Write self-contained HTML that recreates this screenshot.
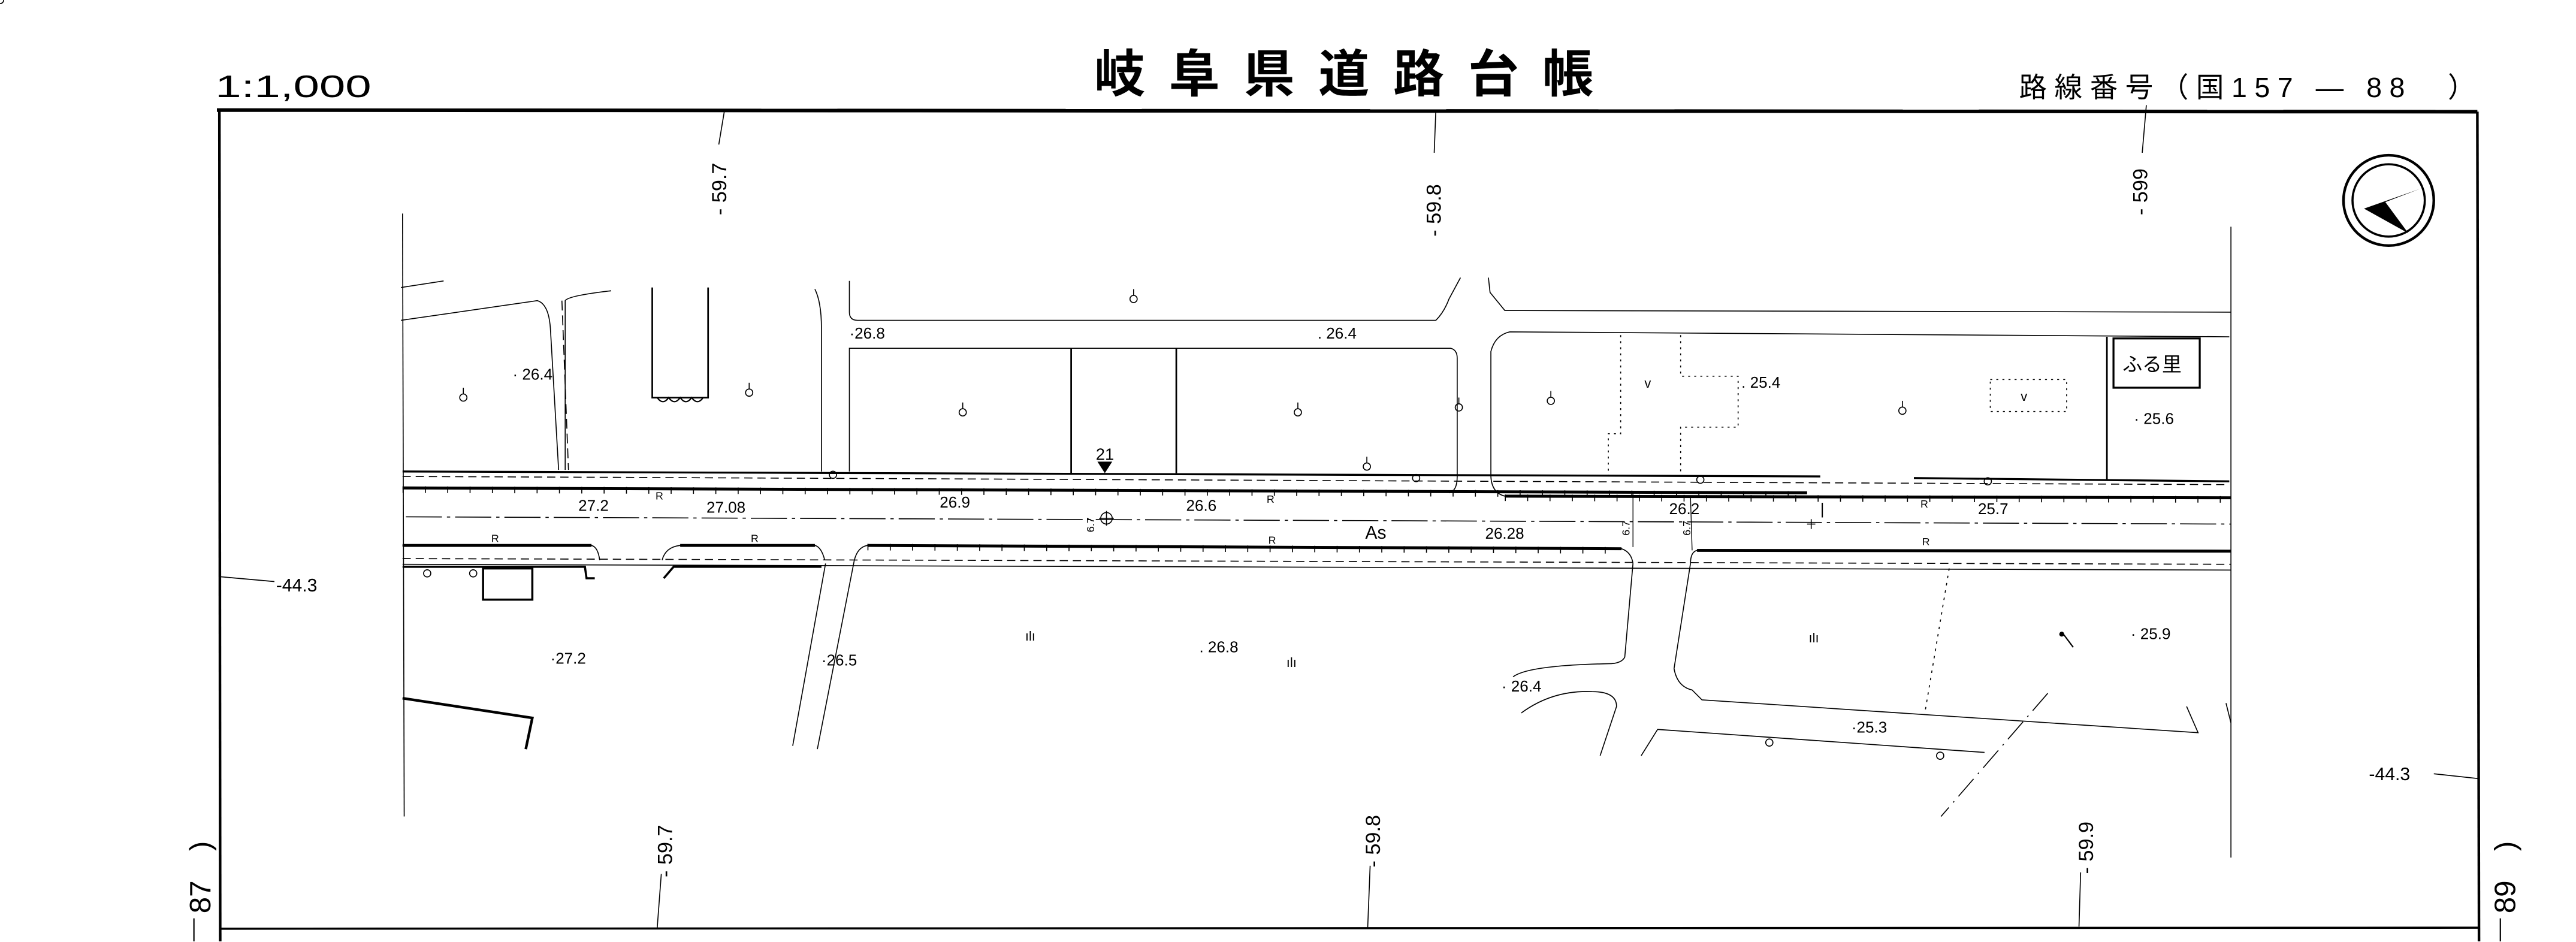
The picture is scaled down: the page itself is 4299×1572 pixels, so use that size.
<!DOCTYPE html>
<html><head><meta charset="utf-8"><style>
html,body{margin:0;padding:0;background:#fff;}
svg{display:block;}
text{font-family:"Liberation Sans","Noto Sans CJK JP",sans-serif;fill:#000;}
</style></head><body>
<svg width="4299" height="1572" viewBox="0 0 1568 573.4" xmlns="http://www.w3.org/2000/svg">
<rect width="1568" height="573.4" fill="#fff"/>
<!-- header -->
<text x="131" y="59" font-size="19" textLength="95" lengthAdjust="spacingAndGlyphs">1:1,000</text>
<text x="666" y="56" font-size="31" font-weight="bold" textLength="304" lengthAdjust="spacing" font-family="Noto Sans CJK JP">岐阜県道路台帳</text>
<text x="1229" y="59" font-size="17" textLength="278" lengthAdjust="spacing">路線番号（国157 — 88　）</text>
<!-- frame -->
<g stroke="#000" fill="none">
<line x1="132" y1="67" x2="1508" y2="68" stroke-width="2.2"/>
<line x1="133.5" y1="67" x2="134" y2="573" stroke-width="1.6"/>
<line x1="1508" y1="68" x2="1509" y2="573" stroke-width="1.6"/>
<line x1="134" y1="565.3" x2="1509" y2="564.7" stroke-width="1.3"/>
<line x1="245" y1="130" x2="246" y2="497" stroke-width="0.6"/>
<line x1="1358" y1="138" x2="1358" y2="522" stroke-width="0.6"/>
<line x1="441" y1="67" x2="437.5" y2="88" stroke-width="0.6"/>
<line x1="874" y1="67" x2="873" y2="93" stroke-width="0.6"/>
<line x1="1306.5" y1="64" x2="1304" y2="93" stroke-width="0.6"/>
<line x1="402.5" y1="532" x2="400" y2="565" stroke-width="0.6"/>
<line x1="834" y1="527" x2="832.5" y2="565" stroke-width="0.6"/>
<line x1="1266.5" y1="531" x2="1265.5" y2="564" stroke-width="0.6"/>
<line x1="133.5" y1="351" x2="167" y2="354" stroke-width="0.6"/>
<line x1="1481.5" y1="471" x2="1509" y2="474" stroke-width="0.6"/>
<line x1="118" y1="559" x2="118" y2="573" stroke-width="0.8"/>
<line x1="1522" y1="559" x2="1522" y2="573" stroke-width="0.8"/>
<circle cx="1454" cy="122" r="27.5" stroke-width="1.6"/>
<circle cx="1454" cy="122" r="22" stroke-width="1.3"/>
</g>
<path d="M1439 127 L1473 115 L1452 123 L1466 142 Z" fill="#000"/>
<!-- rotated labels -->
<g font-size="12.5">
<text transform="translate(442,131) rotate(-90)">-  59.7</text>
<text transform="translate(877,144) rotate(-90)">-  59.8</text>
<text transform="translate(1307,131) rotate(-90)">-  599</text>
<text transform="translate(409,534) rotate(-90)">-  59.7</text>
<text transform="translate(840,528) rotate(-90)">-  59.8</text>
<text transform="translate(1274,532) rotate(-90)">-  59.9</text>
</g>
<text transform="translate(128,556) rotate(-90)" font-size="18">87　)</text>
<text transform="translate(1531,556) rotate(-90)" font-size="18">89　)</text>
<text x="168" y="360" font-size="11">-44.3</text>
<text x="1442" y="475" font-size="11">-44.3</text>
<!-- roads -->
<g stroke="#000" fill="none" stroke-width="0.6">
<path d="M517 171 L517 190 Q517 195 522 195 L874 195 Q879 190 882 182 L889 169"/>
<path d="M906 169 L907 178 L916 189 L1358 190"/>
<path d="M517 287 L517 212 L883 212 Q887 213 887 218 L887 290"/>
<path d="M907.5 290 L907.5 214 Q910 204 919 202 L1357 205"/>
<line x1="652" y1="212" x2="652" y2="288" stroke-width="1"/>
<line x1="716" y1="212" x2="716" y2="288" stroke-width="1"/>
<path d="M244 195 L327 183 Q334 185 335 200 L340 286"/>
<path d="M344 286 L344 183 Q346 180 372 177"/>
<path d="M244 175 L270 171"/>
<path d="M342 183 L346 286" stroke-dasharray="6 3"/>
<path d="M496 176 Q500 184 500 200 L500 287"/>
<path d="M397 175 L397 242 L431 242 L431 175" stroke-width="1"/>
<path d="M400 242 q3.5 5 7 0 q3.5 5 7 0 q3.5 5 7 0 q3.5 5 7 0" stroke-width="0.8"/>
<path d="M245 287 L1108 290" stroke-width="1.2"/>
<path d="M1165 291 L1357 293" stroke-width="1.2"/>
<path d="M245 290 L1357 295" stroke-dasharray="5 3"/>
<path d="M245 297 L1100 300" stroke-width="1.8"/>
<path d="M245 298 L1100 301" stroke-width="4" stroke-dasharray="0.6 13" />
<path d="M887 290 Q887 299 882 300"/>
<path d="M907.5 290 Q908 300 916 302"/>
<path d="M916 302 L1358 303" stroke-width="1.8"/>
<path d="M916 303 L1358 304" stroke-width="4" stroke-dasharray="0.6 13"/>
<path d="M247 314.6 L1358 319" stroke-dasharray="22 3 2 3"/>
<path d="M245 332 L360 332 Q364 333 365 341"/>
<path d="M245 332 L360 332" stroke-width="1.8"/>
<path d="M403 341 Q405 333 414 332 L496 332 Q500 333 502 341"/>
<path d="M414 332 L496 332" stroke-width="1.8"/>
<path d="M520 341 Q522 333 528 332 L987 334 Q993 336 994 343"/>
<path d="M528 332 L987 334" stroke-width="1.8"/>
<path d="M528 333 L987 335" stroke-width="4" stroke-dasharray="0.6 13"/>
<path d="M1029 343 Q1029 336 1033 335 L1358 335"/>
<path d="M1033 335 L1358 335.5" stroke-width="1.8"/>
<path d="M245 340 L1358 343.5" stroke-dasharray="5 3"/>
<path d="M245 343.5 L1358 347"/>
<line x1="994" y1="300" x2="994" y2="333" stroke-width="0.5"/>
<line x1="1029" y1="302" x2="1030" y2="335" stroke-width="0.5"/>
<rect x="294" y="346" width="30" height="19" stroke-width="1.3"/>
<path d="M245 345 L339 345 L356 345 L357 352 L362 352" stroke-width="1.3"/>
<path d="M404 352 L410 345 L500 345" stroke-width="1.3"/>
<path d="M245 425 L324 437 L320 456" stroke-width="1.6"/>
<path d="M502.5 343 L482.5 454"/>
<path d="M520 341 L497.5 456"/>
<path d="M994 343 L989 400 Q987 404 979 404 Q930 405 921 412"/>
<path d="M926 434 Q945 420 969 421 Q984 421 984 430 L974 460"/>
<path d="M1029 343 L1019 407 Q1021 418 1030 420 L1036 426 L1338 446 L1331 430"/>
<path d="M999 460 L1009 444 L1208 458"/>
<path d="M1186.5 346 L1171.5 435" stroke-dasharray="1.5 3"/>
<path d="M1246.5 422 L1181.5 497" stroke-dasharray="14 4 1 4"/>
<path d="M1355 428 L1358 440"/>
<path d="M986.5 204 L986.5 264 L979 264 L979 290" stroke-dasharray="1.2 2.5"/>
<path d="M1023 204 L1023 229 L1058 229 L1058 260 L1023 260 L1023 290" stroke-dasharray="1.2 2.5"/>
<rect x="1211.5" y="231" width="46.5" height="19.5" stroke-dasharray="1.2 2.5"/>
<line x1="1282.5" y1="205" x2="1282.5" y2="292" stroke-width="1"/>
<rect x="1286.5" y="206" width="52.5" height="30" stroke-width="1.2"/>
</g>
<text x="1292" y="226" font-size="12" font-family="Noto Sans CJK JP">ふる里</text>
<g stroke="#000" fill="none" stroke-width="0.6">
<g id="t"><circle cx="0" cy="0" r="2.2"/><line x1="0" y1="-2.2" x2="0" y2="-6"/></g>
</g>
<g stroke="#000" fill="none" stroke-width="0.6">
<use href="#t" x="282" y="242"/><use href="#t" x="456" y="239"/><use href="#t" x="586" y="251"/>
<use href="#t" x="690" y="182"/><use href="#t" x="790" y="251"/><use href="#t" x="888" y="248"/>
<use href="#t" x="944" y="244"/><use href="#t" x="1158" y="250"/><use href="#t" x="832" y="284"/>
<circle cx="507" cy="289" r="2.2"/><circle cx="862" cy="291" r="2.2"/><circle cx="1035" cy="292" r="2.2"/><circle cx="1210" cy="293" r="2.2"/>
<circle cx="260" cy="349" r="2.2"/><circle cx="288" cy="349" r="2.2"/><circle cx="1077" cy="452" r="2.2"/><circle cx="1181" cy="460" r="2.2"/>
<circle cx="673.5" cy="315.5" r="3.5"/><line x1="673.5" y1="311" x2="673.5" y2="320"/><line x1="669" y1="315.5" x2="678" y2="315.5"/>
<line x1="1100" y1="319" x2="1105" y2="319"/><line x1="1102.5" y1="316" x2="1102.5" y2="322"/>
</g>
<path d="M668 281 L677 281 L672.5 288 Z" fill="#000"/>
<text x="667" y="280" font-size="10">21</text>
<g font-size="9.5">
<text x="312" y="231">· 26.4</text>
<text x="517" y="206">·26.8</text>
<text x="802" y="206">. 26.4</text>
<text x="1060" y="236">. 25.4</text>
<text x="1299" y="258">· 25.6</text>
<text x="352" y="311">27.2</text>
<text x="430" y="312">27.08</text>
<text x="572" y="309">26.9</text>
<text x="722" y="311">26.6</text>
<text x="904" y="328">26.28</text>
<text x="1016" y="313">26.2</text>
<text x="1204" y="313">25.7</text>
<text x="1108" y="313">|</text>
<text x="831" y="328" font-size="11">As</text>
<text x="335" y="404">·27.2</text>
<text x="500" y="405">·26.5</text>
<text x="730" y="397">. 26.8</text>
<text x="914" y="421">· 26.4</text>
<text x="1127" y="446">·25.3</text>
<text x="1297" y="389">· 25.9</text>
<text x="624" y="390" font-size="8">ılı</text>
<text x="783" y="406" font-size="8">ılı</text>
<text x="1101" y="391" font-size="8">ılı</text>
<text x="1001" y="236" font-size="8">v</text>
<text x="1230" y="244" font-size="8">v</text>
</g>
<g font-size="6.5">
<text x="399" y="304">R</text><text x="771" y="306">R</text><text x="1169" y="309">R</text>
<text x="299" y="330">R</text><text x="457" y="330">R</text><text x="772" y="331">R</text><text x="1170" y="332">R</text>
<text transform="translate(666,324) rotate(-90)">6.7</text>
<text transform="translate(992,326) rotate(-90)">6.7</text>
<text transform="translate(1029,326) rotate(-90)">6.7</text>
</g>
<g stroke="#000" stroke-width="0.8"><line x1="1256" y1="386" x2="1262" y2="394"/></g>
<circle cx="1255" cy="386" r="1.5" fill="#000"/>
</svg>
</body></html>
